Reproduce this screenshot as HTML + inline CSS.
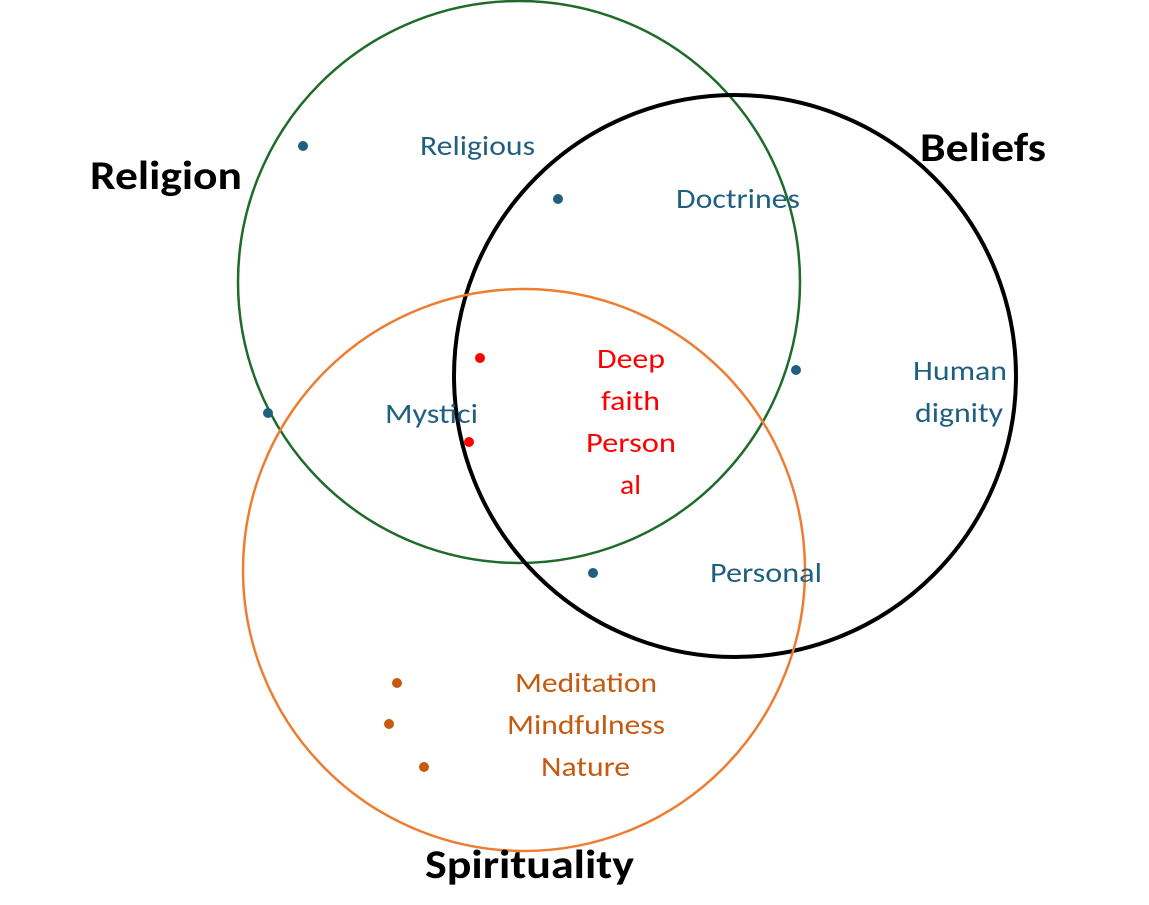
<!DOCTYPE html>
<html><head><meta charset="utf-8"><style>html,body{margin:0;padding:0;background:#fff}svg{display:block}</style></head>
<body>
<svg width="1149" height="905" viewBox="0 0 1149 905" xmlns="http://www.w3.org/2000/svg" font-family="Carlito, 'Liberation Sans', sans-serif">
<circle cx="519" cy="282" r="281" fill="none" stroke="#1e6b2a" stroke-width="2.5"/>
<circle cx="735" cy="376" r="281" fill="none" stroke="#000" stroke-width="4"/>
<circle cx="524" cy="570" r="281" fill="none" stroke="#ed7d31" stroke-width="2.5"/>
<g font-weight="bold" font-size="40" fill="#000">
<text x="90" y="189" textLength="152" lengthAdjust="spacingAndGlyphs">Religion</text>
<text x="920" y="161" textLength="126" lengthAdjust="spacingAndGlyphs">Beliefs</text>
<text x="425" y="878" textLength="209" lengthAdjust="spacingAndGlyphs">Spirituality</text>
</g>
<g fill="#1f5f80" font-size="28">
<text x="420" y="155" textLength="115" lengthAdjust="spacingAndGlyphs">Religious</text>
<text x="676" y="208" textLength="124" lengthAdjust="spacingAndGlyphs">Doctrines</text>
<text x="385" y="423" textLength="93" lengthAdjust="spacingAndGlyphs">Mystici</text>
<text x="913" y="380" textLength="94" lengthAdjust="spacingAndGlyphs">Human</text>
<text x="915" y="422" textLength="88" lengthAdjust="spacingAndGlyphs">dignity</text>
<text x="710" y="582" textLength="112" lengthAdjust="spacingAndGlyphs">Personal</text>
</g>
<g fill="#1f5f80">
<circle cx="303" cy="146" r="5"/><circle cx="558" cy="199" r="5"/><circle cx="268" cy="413" r="5"/>
<circle cx="796" cy="370" r="5"/><circle cx="593" cy="573" r="5"/>
</g>
<g fill="#f00" font-size="28">
<text x="597" y="368" textLength="68" lengthAdjust="spacingAndGlyphs">Deep</text>
<text x="601" y="410" textLength="59" lengthAdjust="spacingAndGlyphs">faith</text>
<text x="586" y="452" textLength="90" lengthAdjust="spacingAndGlyphs">Person</text>
<text x="620" y="494" textLength="21" lengthAdjust="spacingAndGlyphs">al</text>
</g>
<circle cx="480" cy="358" r="5" fill="#f00"/><circle cx="469" cy="442" r="5" fill="#f00"/>
<g fill="#c55a11" font-size="28">
<text x="515" y="692" textLength="142" lengthAdjust="spacingAndGlyphs">Meditation</text>
<text x="507" y="734" textLength="158" lengthAdjust="spacingAndGlyphs">Mindfulness</text>
<text x="541" y="776" textLength="89" lengthAdjust="spacingAndGlyphs">Nature</text>
</g>
<g fill="#c55a11">
<circle cx="397" cy="683" r="5"/><circle cx="389" cy="724" r="5"/><circle cx="424" cy="767" r="5"/>
</g>
</svg>
</body></html>
